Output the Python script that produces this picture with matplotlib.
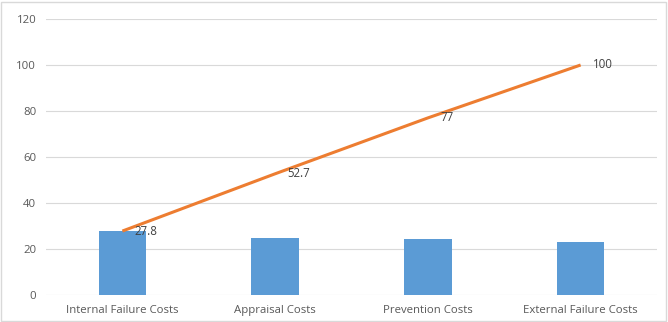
import matplotlib.pyplot as plt
from matplotlib.patches import Rectangle

# cost categories, individual costs and running total (%)
categories = ['Internal Failure Costs', 'Appraisal Costs', 'Prevention Costs', 'External Failure Costs']
costs = [27.8, 24.9, 24.3, 23.0]
cumulative = [27.8, 52.7, 77, 100]
y_ticks = [0, 20, 40, 60, 80, 100, 120]

plt.rcParams['font.family'] = ['Open Sans', 'DejaVu Sans']

fig = plt.figure(figsize=(6.68, 3.22), dpi=100)
ax = fig.add_axes([46 / 668, 27 / 322, 611 / 668, 276 / 322])

x = range(len(categories))
ax.bar(x, costs, width=0.31, color='#5B9BD5', zorder=2)
ax.plot(x, cumulative, color='#ED7D31', lw=2.2, zorder=3, solid_capstyle='butt')

for xi, v in zip(x, cumulative):
    ax.annotate(f'{v:g}', (xi, v), xytext=(9, 0), textcoords='offset points',
                ha='left', va='center', fontsize=8.3, color='#404040', zorder=4)

ax.set_xlim(-0.5, len(categories) - 0.5)
ax.set_ylim(0, 120)
ax.set_yticks(y_ticks)
ax.set_xticks(list(x))
ax.set_xticklabels(categories)
ax.tick_params(length=0, labelsize=8.2, labelcolor='#595959', pad=7)
ax.tick_params(axis='y', pad=7)
ax.yaxis.grid(True, color='#d9d9d9', lw=0.8, zorder=0)
ax.set_axisbelow(True)
for s in ax.spines.values():
    s.set_visible(False)

# chart area border
fig.patches.append(Rectangle((1 / 668, 1 / 322), 665 / 668, 319 / 322, transform=fig.transFigure,
                             fill=False, edgecolor='#d9d9d9', lw=1))

fig.savefig('out.png', dpi=100)
